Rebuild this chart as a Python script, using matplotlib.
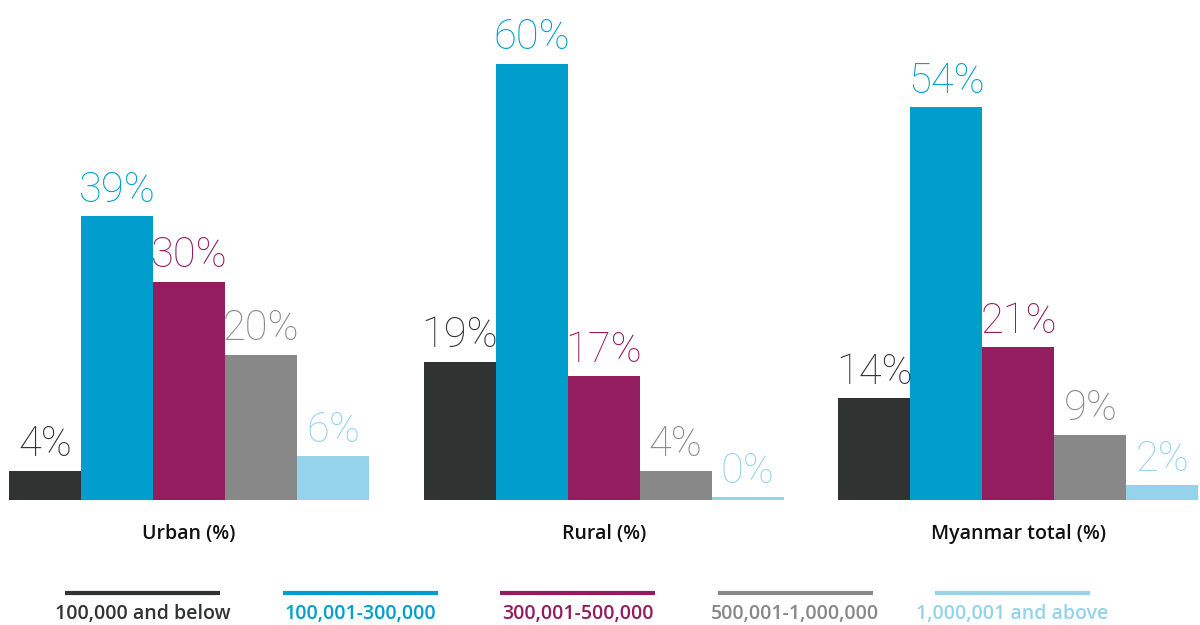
import matplotlib.pyplot as plt
from matplotlib.lines import Line2D

groups = ['Urban (%)', 'Rural (%)', 'Myanmar total (%)']
series = ['100,000 and below', '100,001-300,000', '300,001-500,000',
          '500,001-1,000,000', '1,000,001 and above']
colors = ['#313232', '#009ecd', '#931d5f', '#888888', '#94d3ea']
values = [
    [4, 19, 14],
    [39, 60, 54],
    [30, 17, 21],
    [20, 4, 9],
    [6, 0, 2],
]

W, H = 1200, 625
fig = plt.figure(figsize=(W / 100, H / 100), dpi=100)
ax = fig.add_axes([0, 120 / H, 1, 505 / H])
ax.set_axis_off()

step = 5.76  # group spacing in bar widths

for j, (name, vals, c) in enumerate(zip(series, values, colors)):
    for i, v in enumerate(vals):
        x = i * step + j
        h = v if v > 0 else 0.4
        ax.bar(x, h, width=1.0, align='edge', color=c, linewidth=0)
        ax.annotate(f'{v}%', (x + 0.5, h), xytext=(0, 4),
                    textcoords='offset points', ha='center', va='bottom',
                    fontsize=30, color=c, family='Roboto', fontweight='light')

for i, g in enumerate(groups):
    ax.annotate(g, (i * step + 2.5, 0), xytext=(0, -17), textcoords='offset points',
                ha='center', va='top', fontsize=14, color='#111111',
                family='Open Sans', fontweight='semibold')

ax.set_xlim(-9 / 72, (W - 9) / 72)
ax.set_ylim(-5 / 7.27, 500 / 7.27)

# legend: thick colored bar with the label underneath
for k, (name, c) in enumerate(zip(series, colors)):
    x0 = (65 + k * 217.5) / W
    x1 = x0 + 155 / W
    fig.add_artist(Line2D([x0, x1], [1 - 593 / H] * 2, color=c, linewidth=3,
                          transform=fig.transFigure, solid_capstyle='butt'))
    fig.text((x0 + x1) / 2, 1 - 614 / H, name, ha='center', va='center',
             fontsize=14, color=c, family='Open Sans', fontweight='semibold')

fig.savefig('out.png', dpi=100)
